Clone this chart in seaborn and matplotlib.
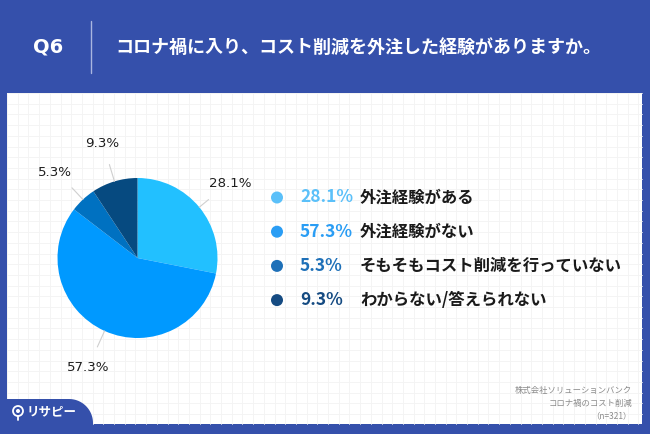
import numpy as np
import matplotlib
matplotlib.use('Agg')
import matplotlib.pyplot as plt
from matplotlib.patches import Rectangle, Circle, PathPatch
from matplotlib.path import Path
import seaborn as sns

# --------------------------------------------------
# Data
# --------------------------------------------------
categories = ['外注経験がある', '外注経験がない', 'そもそもコスト削減を行っていない', 'わからない/答えられない']
shares = [28.1, 57.3, 5.3, 9.3]
pct_labels = ['28.1%', '57.3%', '5.3%', '9.3%']
pie_colors = ['#22C0FF', '#0099FF', '#0071C1', '#064A80']
legend_colors = ['#5BC0F9', '#2A9DF4', '#1E70B8', '#154B82']

title_q = 'Q6'
title_text = 'コロナ禍に入り、コスト削減を外注した経験がありますか。'
source_lines = ['株式会社ソリューションバンク', 'コロナ禍のコスト削減', '（n=321）']

BLUE = '#3550AB'

sns.set_theme(style='white')
plt.rcParams['font.family'] = ['Noto Sans CJK JP', 'DejaVu Sans']

W, H = 650, 434
fig = plt.figure(figsize=(6.5, 4.34), dpi=100)
fig.patch.set_facecolor(BLUE)

# background axes in pixel coordinates
bg = fig.add_axes([0, 0, 1, 1])
bg.set_xlim(0, W)
bg.set_ylim(H, 0)
bg.axis('off')

# white panel with faint grid
bg.add_patch(Rectangle((7, 93), 635, 331, facecolor='white', edgecolor='none', zorder=1))
for gx in np.arange(7, 642, 10.7):
    bg.plot([gx, gx], [93, 424], color='#f3f3f3', lw=0.6, zorder=1.5)
for gy in np.arange(93, 424, 10.7):
    bg.plot([7, 642], [gy, gy], color='#f3f3f3', lw=0.6, zorder=1.5)

# blue tab bottom-left with rounded top-right corner
r = 24
theta = np.linspace(np.pi / 2, 0, 20)
arc = np.column_stack([93 - r + r * np.cos(theta), 399 + r - r * np.sin(theta)])
verts = np.vstack([[0, 399], arc, [93, 424], [93, 434], [0, 434], [0, 399]])
bg.add_patch(PathPatch(Path(verts), facecolor=BLUE, edgecolor='none', zorder=2))

# header
bg.text(48, 47, title_q, color='white', fontsize=14, fontweight='bold',
        ha='center', va='center', family=['DejaVu Sans'])
bg.plot([91, 91], [21, 73], color='#aab6e0', lw=1)
bg.text(115, 47, title_text, color='white', fontsize=13, fontweight='bold',
        ha='left', va='center')

# logo
bg.add_patch(Circle((18, 411), 5, facecolor='none', edgecolor='white', lw=1.3, zorder=3))
bg.add_patch(Circle((18, 411), 2, facecolor='white', edgecolor='none', zorder=3))
bg.plot([18, 18], [416, 420], color='white', lw=1.3, zorder=3)
bg.text(27, 412, 'リサピー', color='white', fontsize=9, fontweight='bold',
        ha='left', va='center', zorder=3)

# source note
for i, line in enumerate(source_lines):
    bg.text(632, 391 + i * 12.5, line, color='#8a8a8a', fontsize=6,
            ha='right', va='center', zorder=3)

# legend
for i, (cat, pct, col) in enumerate(zip(categories, pct_labels, legend_colors)):
    y = 197.5 + i * 34.2
    bg.add_patch(Circle((277, y), 6, facecolor=col, edgecolor='none', zorder=3))
    bg.text(300, y, pct, color=col, fontsize=12.5, fontweight='bold',
            ha='left', va='center', zorder=3)
    bg.text(360, y, cat, color='#1a1a1a', fontsize=11.8, fontweight='bold',
            ha='left', va='center', zorder=3)

# --------------------------------------------------
# Pie
# --------------------------------------------------
cx, cy, rad, half = 137.5, 258, 80, 125
ax = fig.add_axes([(cx - half) / W, (H - cy - half) / H, 2 * half / W, 2 * half / H])
wedges, _ = ax.pie(shares, colors=pie_colors, startangle=90, counterclock=False,
                   radius=1, wedgeprops=dict(linewidth=0))
lim = half / rad
ax.set_xlim(-lim, lim)
ax.set_ylim(-lim, lim)
ax.set_aspect('equal')
ax.axis('off')

# outside labels with leader lines
label_pos = [(1.16, 0.93), (-0.62, -1.37), (-1.03, 1.07), (-0.44, 1.43)]
line_end = [1.15, 1.22, 1.2, 1.22]
for w, txt, (tx, ty), le in zip(wedges, pct_labels, label_pos, line_end):
    ang = np.deg2rad((w.theta1 + w.theta2) / 2)
    x0, y0 = np.cos(ang), np.sin(ang)
    ax.plot([x0, le * x0], [y0, le * y0], color='#cfcfcf', lw=0.8, clip_on=False)
    ax.text(tx, ty, txt, fontsize=9.6, color='#1e1e1e', ha='center', va='center',
            family=['DejaVu Sans'])

fig.savefig('out.png', dpi=100, facecolor=fig.get_facecolor())
